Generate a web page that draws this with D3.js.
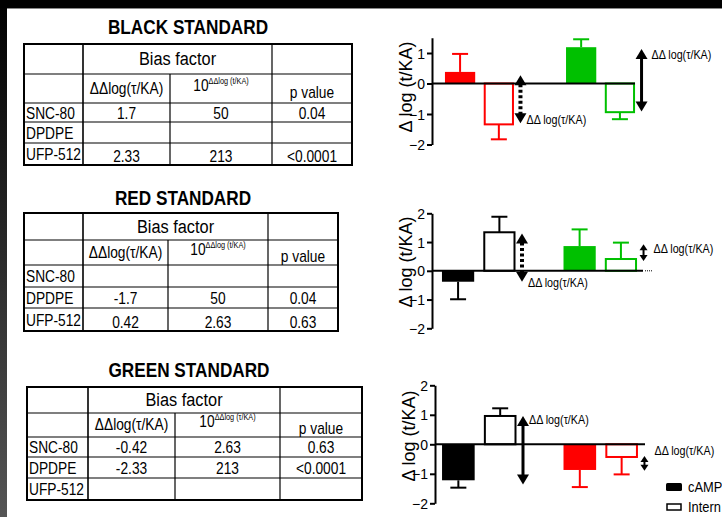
<!DOCTYPE html>
<html>
<head>
<meta charset="utf-8">
<script src="https://cdn.jsdelivr.net/npm/d3@7"></script>
<style>
  html, body { margin: 0; padding: 0; background: #fff; }
  svg { display: block; }
</style>
</head>
<body>
<script>
// ---- data ----
var tableTitles = ["BLACK STANDARD", "RED STANDARD", "GREEN STANDARD"];
var compounds = ["SNC-80", "DPDPE", "UFP-512"];
var ddLogValues = [["1.7", "", "2.33"], ["", "-1.7", "0.42"], ["-0.42", "-2.33", ""]];
var biasFactors = [["50", "", "213"], ["", "50", "2.63"], ["2.63", "213", ""]];
var pValues = [["0.04", "", "<0.0001"], ["", "0.04", "0.63"], ["0.63", "<0.0001", ""]];
var powerLabels = ["\u0394\u0394log (t/KA)", "\u0394\u0394log (t/KA)", "\u0394\u0394log (\u03c4/KA)"];

var assays = ["cAMP", "Intern"];
var chartGroups = [["SNC-80", "UFP-512"], ["DPDPE", "UFP-512"], ["DPDPE", "SNC-80"]];
var chartMeans = [[[0.38, -1.34], [1.19, -0.94]], [[-0.38, 1.34], [0.86, 0.41]], [[-1.22, 0.96], [-0.87, -0.43]]];
var chartErrors = [[[0.59, 0.49], [0.26, 0.23]], [[0.61, 0.54], [0.58, 0.57]], [[0.25, 0.26], [0.58, 0.59]]];
var arrowSpans = [[[0.27, -1.3], [1.13, -0.92]], [[1.3, -0.38], [0.92, 0.34]], [[0.96, -1.36], [-0.4, -0.9]]];
var arrowDotted = [[true, false], [true, false], [false, false]];
var yDomains = [[-2, 1.5], [-2, 2], [-2, 2]];
var yTicks = [[-2, -1, 0, 1], [-2, -1, 0, 1, 2], [-2, -1, 0, 1, 2]];
var arrowLabel = "\u0394\u0394 log(\u03c4/KA)";
var yLabel = "\u0394 log (t/KA)";

// ---- style / layout ----
var SANS = "'Liberation Sans',Arial,Helvetica,sans-serif";
var NARROW_X = 0.86;   // horizontal squeeze to mimic Arial Narrow
var compoundColors = {"DPDPE": "#000000", "SNC-80": "#ff0000", "UFP-512": "#00c000"};

var tableLayout = [
  {cols: [24, 83, 170, 272, 352], rows: [44, 74, 103, 122, 143, 165], titleX: 188, titleY: 27},
  {cols: [24, 83, 168, 268, 338], rows: [213, 240, 265, 287, 308, 331], titleX: 183, titleY: 198},
  {cols: [27, 88, 175, 280, 362], rows: [387, 413, 437, 457, 478, 500], titleX: 189, titleY: 370}
];
var chartLayout = [
  {axisX: 432, xRange: [432, 648], pi: 0.43, po: 0.107, yRange: [144.5, 37.75], zeroEnd: 635, dots: false,
   labelY: 87, arrowLabelY: [-1.2, 0.93]},
  {axisX: 432, xRange: [432, 647], pi: 0.395, po: 0.082, yRange: [328.3, 213.3], zeroEnd: 643, dots: true,
   labelY: 262, arrowLabelY: [-0.43, 0.76]},
  {axisX: 435, xRange: [435, 645], pi: 0.387, po: 0.058, yRange: [503.3, 385.3], zeroEnd: 645, dots: false,
   labelY: 436, arrowLabelY: [0.82, -0.23]}
];

var svg = d3.select("body").append("svg").attr("width", 722).attr("height", 517);

// narrow text helper
function ntext(g, x, y, str, size, anchor, weight) {
  var t = g.append("text").attr("transform", "translate(" + x + "," + y + ") scale(" + NARROW_X + ",1)")
    .attr("text-anchor", anchor || "start").style("font-family", SANS)
    .style("font-size", size + "px").style("font-weight", weight || "normal");
  if (str !== null) t.text(str);
  return t;
}

// frame (dark screen edges)
var defs = svg.append("defs");
var grad = defs.append("linearGradient").attr("id", "edge").attr("x1", 0).attr("y1", 0).attr("x2", 0).attr("y2", 1);
grad.append("stop").attr("offset", "0%").attr("stop-color", "#000");
grad.append("stop").attr("offset", "100%").attr("stop-color", "#555");
svg.append("rect").attr("x", 0).attr("y", 0).attr("width", 7).attr("height", 517).attr("fill", "url(#edge)");
svg.append("rect").attr("x", 0).attr("y", 0).attr("width", 722).attr("height", 8).attr("fill", "#000");
svg.append("line").attr("x1", 7).attr("x2", 722).attr("y1", 8.5).attr("y2", 8.5).attr("stroke", "#888").attr("stroke-width", 1);

// ---- tables ----
tableLayout.forEach(function(L, t) {
  var g = svg.append("g");
  var c = L.cols, r = L.rows;

  ntext(g, L.titleX, L.titleY + 7, tableTitles[t], 20, "middle", "bold");

  [r[1], r[2], r[3], r[4]].forEach(function(y) {
    g.append("line").attr("x1", c[0]).attr("x2", c[4]).attr("y1", y).attr("y2", y)
      .attr("stroke", "#000").attr("stroke-width", 1.2);
  });
  g.append("line").attr("x1", c[1]).attr("x2", c[1]).attr("y1", r[0]).attr("y2", r[5]).attr("stroke", "#000").attr("stroke-width", 1.6);
  g.append("line").attr("x1", c[2]).attr("x2", c[2]).attr("y1", r[1]).attr("y2", r[5]).attr("stroke", "#000").attr("stroke-width", 1.2);
  g.append("line").attr("x1", c[3]).attr("x2", c[3]).attr("y1", r[0]).attr("y2", r[5]).attr("stroke", "#000").attr("stroke-width", 1.2);
  g.append("rect").attr("x", c[0]).attr("y", r[0]).attr("width", c[4] - c[0]).attr("height", r[5] - r[0])
    .attr("fill", "none").attr("stroke", "#000").attr("stroke-width", 2);

  function mid(i) { return (c[i] + c[i + 1]) / 2; }

  ntext(g, (c[1] + c[3]) / 2, (r[0] + r[1]) / 2 + 6, "Bias factor", 19, "middle");

  var hy = (r[1] + r[2]) / 2;
  ntext(g, mid(1), hy + 5, "\u0394\u0394log(\u03c4/KA)", 16, "middle");
  var pw = ntext(g, mid(2), hy + 2, null, 16, "middle");
  pw.append("tspan").text("10");
  pw.append("tspan").attr("dy", -7).style("font-size", "8.5px").text(powerLabels[t]);
  ntext(g, mid(3), hy + 9, "p value", 16, "middle");

  compounds.forEach(function(name, k) {
    var cy = (r[2 + k] + r[3 + k]) / 2 + 6;
    ntext(g, c[0] + 2, cy, name, 16, "start");
    [ddLogValues[t][k], biasFactors[t][k], pValues[t][k]].forEach(function(v, j) {
      ntext(g, mid(j + 1), cy + (k === 2 ? 2 : 0), v, 16, "middle");
    });
  });
});

// ---- charts ----
function drawArrow(g, x, y1, y2, dotted, small) {
  var hw = small ? 4 : 6, hl = small ? 6 : 10;
  var top = Math.min(y1, y2), bot = Math.max(y1, y2);
  g.append("line").attr("x1", x).attr("x2", x).attr("y1", top + hl - 1).attr("y2", bot - hl + 1)
    .attr("stroke", "#000").attr("stroke-width", dotted ? 4 : (small ? 2 : 3))
    .attr("stroke-dasharray", dotted ? "3,2.5" : null);
  g.append("path").attr("d", "M" + x + "," + top + "L" + (x + hw) + "," + (top + hl) + "L" + (x - hw) + "," + (top + hl) + "Z");
  g.append("path").attr("d", "M" + x + "," + bot + "L" + (x + hw) + "," + (bot - hl) + "L" + (x - hw) + "," + (bot - hl) + "Z");
}

chartLayout.forEach(function(L, ci) {
  var g = svg.append("g");
  var y = d3.scaleLinear().domain(yDomains[ci]).range(L.yRange);
  var x0 = d3.scaleBand().domain(chartGroups[ci]).range(L.xRange).paddingInner(L.pi).paddingOuter(L.po);
  var x1 = d3.scaleBand().domain(assays).range([0, x0.bandwidth()]).paddingInner(0.22);

  chartGroups[ci].forEach(function(comp, gi) {
    var col = compoundColors[comp];
    assays.forEach(function(a, ai) {
      var v = chartMeans[ci][gi][ai], e = chartErrors[ci][gi][ai];
      var bx = x0(comp) + x1(a), bw = x1.bandwidth();
      var cx = bx + bw / 2;
      var tip = v >= 0 ? v + e : v - e;
      g.append("line").attr("x1", cx).attr("x2", cx).attr("y1", y(v)).attr("y2", y(tip))
        .attr("stroke", col).attr("stroke-width", 2);
      g.append("line").attr("x1", cx - 8).attr("x2", cx + 8).attr("y1", y(tip)).attr("y2", y(tip))
        .attr("stroke", col).attr("stroke-width", 2);
      var filled = ai === 0;
      var yt = Math.min(y(v), y(0)), h = Math.abs(y(v) - y(0));
      g.append("rect")
        .attr("x", filled ? bx : bx + 1).attr("width", filled ? bw : bw - 2)
        .attr("y", yt).attr("height", h)
        .attr("fill", filled ? col : "#fff")
        .attr("stroke", filled ? "none" : col).attr("stroke-width", 2);
    });

    var ax = x0(comp) + x0.bandwidth() + 6.5;
    var span = arrowSpans[ci][gi];
    var small = Math.abs(span[0] - span[1]) < 1;
    drawArrow(g, ax, y(span[0]), y(span[1]), arrowDotted[ci][gi], small);
    ntext(g, ax + (gi === 0 ? 6 : 10), y(L.arrowLabelY[gi]) + 4, arrowLabel, 12.5, "start");
  });

  // zero line
  g.append("line").attr("x1", L.axisX).attr("x2", L.zeroEnd).attr("y1", y(0)).attr("y2", y(0))
    .attr("stroke", "#000").attr("stroke-width", 2);
  if (L.dots) {
    g.append("line").attr("x1", L.zeroEnd + 2).attr("x2", L.zeroEnd + 10).attr("y1", y(0)).attr("y2", y(0))
      .attr("stroke", "#000").attr("stroke-width", 1).attr("stroke-dasharray", "1,1");
  }

  var axis = g.append("g").attr("transform", "translate(" + L.axisX + ",0)")
    .call(d3.axisLeft(y).tickValues(yTicks[ci]).tickSizeOuter(0).tickSizeInner(5).tickFormat(d3.format("d")));
  axis.select(".domain").attr("stroke-width", 2);
  axis.selectAll(".tick line").attr("stroke-width", 2);
  axis.selectAll(".tick text").style("font-family", SANS).style("font-size", "14px").attr("x", -7).attr("dy", "0.36em");

  g.append("text").attr("transform", "translate(" + (L.axisX - 20) + "," + L.labelY + ") rotate(-90)")
    .attr("text-anchor", "middle").style("font-family", SANS).style("font-size", "18px").text(yLabel);
});

// legend
var leg = svg.append("g");
assays.forEach(function(a, i) {
  var ly = 483 + i * 20;
  leg.append("rect").attr("x", i === 0 ? 666 : 667).attr("y", i === 0 ? ly : ly + 1)
    .attr("width", i === 0 ? 16 : 14).attr("height", i === 0 ? 8 : 6).attr("rx", i === 0 ? 1.5 : 0)
    .attr("fill", i === 0 ? "#000" : "#fff").attr("stroke", "#000").attr("stroke-width", i === 0 ? 0 : 1.5);
  ntext(leg, 688, ly + 9, a, 15, "start");
});
</script>
</body>
</html>
